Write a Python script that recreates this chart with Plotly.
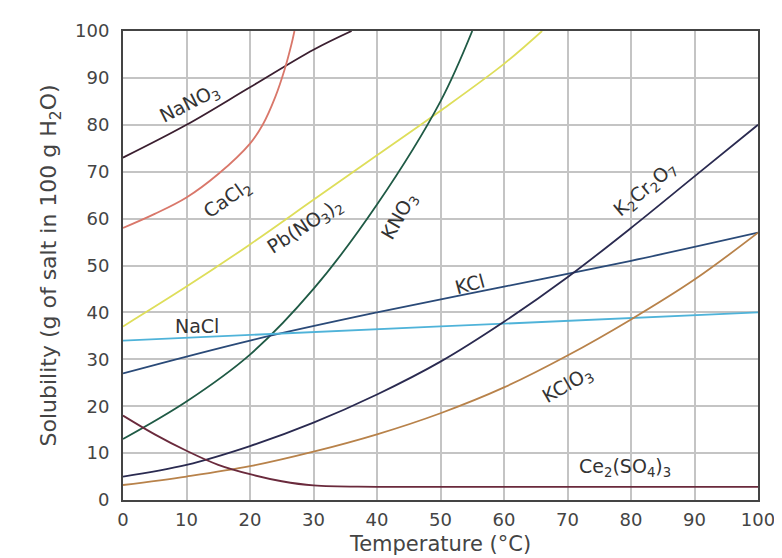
import plotly.graph_objects as go

# Temperature (°C) / solubility (g per 100 g H2O)
nano3_t = [0, 10, 20, 30, 36]
nano3_s = [73, 80, 88, 96, 100]

cacl2_t = [0, 5, 10, 15, 20, 22, 24, 25.5, 26.5, 27]
cacl2_s = [58, 61, 64.5, 69.5, 76, 80, 86, 92, 97, 100]

pbno3_t = [0, 10, 20, 30, 40, 50, 60, 66]
pbno3_s = [37, 45.5, 54.5, 64, 73.5, 83, 93, 100]

kno3_t = [0, 10, 20, 30, 40, 50, 55]
kno3_s = [13, 21, 31, 45, 63, 85, 100]

kcl_t = [0, 20, 40, 60, 80, 100]
kcl_s = [27, 34, 40, 45.5, 51, 57]

nacl_t = [0, 50, 100]
nacl_s = [34, 37, 40]

k2cr2o7_t = [0, 10, 20, 30, 40, 50, 60, 70, 80, 90, 100]
k2cr2o7_s = [5, 7.5, 11.5, 16.5, 22.5, 29.5, 38, 47.5, 58, 69, 80]

kclo3_t = [0, 10, 20, 30, 40, 50, 60, 70, 80, 90, 100]
kclo3_s = [3.2, 5, 7.2, 10.3, 14, 18.5, 24, 30.8, 38.5, 47, 57]

ce_t = [0, 5, 10, 15, 20, 25, 30, 40, 100]
ce_s = [18, 14, 10.5, 7.5, 5.5, 4, 3.1, 2.8, 2.8]

x_ticks = [0, 10, 20, 30, 40, 50, 60, 70, 80, 90, 100]
y_ticks = [0, 10, 20, 30, 40, 50, 60, 70, 80, 90, 100]

series = [
    (nano3_t, nano3_s, "#3b1f30"),
    (cacl2_t, cacl2_s, "#d9776a"),
    (pbno3_t, pbno3_s, "#dede5a"),
    (kno3_t, kno3_s, "#1f5a45"),
    (kcl_t, kcl_s, "#2a4a78"),
    (nacl_t, nacl_s, "#4fb3d9"),
    (k2cr2o7_t, k2cr2o7_s, "#2a2a50"),
    (kclo3_t, kclo3_s, "#b8824a"),
    (ce_t, ce_s, "#6a2a3c"),
]

# label text, x, y, angle
labels = [
    ("NaNO<sub>3</sub>", 10.6, 84.5, -27),
    ("CaCl<sub>2</sub>", 16.5, 64, -35),
    ("Pb(NO<sub>3</sub>)<sub>2</sub>", 28.7, 58.3, -33),
    ("KNO<sub>3</sub>", 43.6, 60.4, -60),
    ("K<sub>2</sub>Cr<sub>2</sub>O<sub>7</sub>", 82.2, 66.3, -40),
    ("KCl", 54.6, 46, -15),
    ("NaCl", 11.6, 37, 0),
    ("KClO<sub>3</sub>", 70, 24.4, -30),
    ("Ce<sub>2</sub>(SO<sub>4</sub>)<sub>3</sub>", 79, 7, 0),
]

FONT = "DejaVu Sans"

fig = go.Figure()
for t, s, c in series:
    fig.add_trace(go.Scatter(x=t, y=s, mode="lines", line=dict(color=c, width=1.8, shape="spline"),
                             showlegend=False, hoverinfo="skip"))

for txt, x, y, a in labels:
    fig.add_annotation(x=x, y=y, text=txt, showarrow=False, textangle=a,
                       font=dict(family=FONT, size=19, color="#333333"))

fig.update_layout(
    width=782, height=558,
    margin=dict(l=115, r=32, t=20, b=66),
    paper_bgcolor="white", plot_bgcolor="white",
    font=dict(family=FONT, size=18, color="#444444"),
    showlegend=False,
)
fig.update_xaxes(range=[0, 100], tickvals=x_ticks, showgrid=True, gridcolor="#c4c4c4", gridwidth=1.5,
                 showline=True, linecolor="#444444", linewidth=2, mirror=True, zeroline=False,
                 ticks="", ticklabelstandoff=2, tickfont=dict(size=18),
                 title=dict(text="Temperature (°C)", standoff=8, font=dict(size=21)))
fig.update_yaxes(range=[0, 100], tickvals=y_ticks, showgrid=True, gridcolor="#c4c4c4", gridwidth=1.5,
                 showline=True, linecolor="#444444", linewidth=2, mirror=True, zeroline=False,
                 ticks="", ticklabelstandoff=8, tickfont=dict(size=18),
                 title=dict(text="Solubility (g of salt in 100 g H<sub>2</sub>O)", standoff=12,
                            font=dict(size=22)))

fig.write_html("out.html")
